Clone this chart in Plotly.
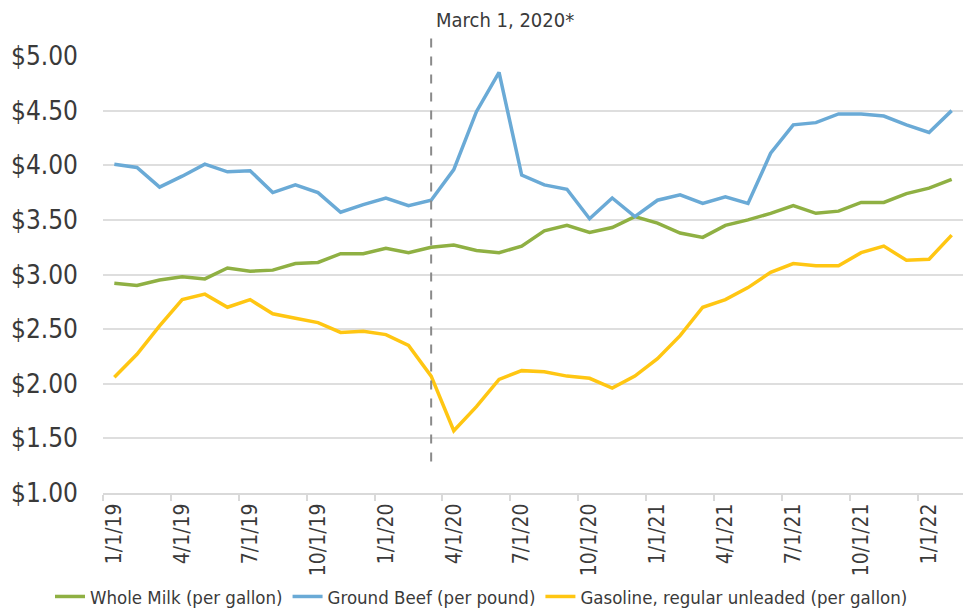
import plotly.graph_objects as go

months = ["1/1/19","2/1/19","3/1/19","4/1/19","5/1/19","6/1/19","7/1/19","8/1/19","9/1/19","10/1/19","11/1/19","12/1/19",
          "1/1/20","2/1/20","3/1/20","4/1/20","5/1/20","6/1/20","7/1/20","8/1/20","9/1/20","10/1/20","11/1/20","12/1/20",
          "1/1/21","2/1/21","3/1/21","4/1/21","5/1/21","6/1/21","7/1/21","8/1/21","9/1/21","10/1/21","11/1/21","12/1/21",
          "1/1/22","2/1/22"]

milk = [2.92, 2.90, 2.95, 2.98, 2.96, 3.06, 3.03, 3.04, 3.10, 3.11, 3.19, 3.19,
        3.24, 3.20, 3.25, 3.27, 3.22, 3.20, 3.26, 3.40, 3.45, 3.385, 3.43, 3.53,
        3.47, 3.38, 3.34, 3.45, 3.50, 3.56, 3.63, 3.56, 3.58, 3.66, 3.66, 3.74,
        3.79, 3.87]

beef = [4.01, 3.98, 3.80, 3.90, 4.01, 3.94, 3.95, 3.75, 3.82, 3.75, 3.57, 3.64,
        3.70, 3.63, 3.68, 3.96, 4.49, 4.85, 3.91, 3.82, 3.78, 3.51, 3.70, 3.53,
        3.68, 3.73, 3.65, 3.71, 3.65, 4.11, 4.37, 4.39, 4.47, 4.47, 4.45, 4.37,
        4.30, 4.50]

gas = [2.06, 2.27, 2.53, 2.77, 2.82, 2.70, 2.77, 2.64, 2.60, 2.56, 2.47, 2.48,
       2.45, 2.35, 2.07, 1.57, 1.79, 2.04, 2.12, 2.11, 2.07, 2.05, 1.96, 2.07,
       2.23, 2.44, 2.70, 2.77, 2.88, 3.02, 3.10, 3.08, 3.08, 3.20, 3.26, 3.13,
       3.14, 3.36]

yticks = [1.0, 1.5, 2.0, 2.5, 3.0, 3.5, 4.0, 4.5, 5.0]
ytick_text = ["$%.2f" % v for v in yticks]
marker_idx = months.index("3/1/20")
marker_label = "March 1, 2020*"

x = list(range(len(months)))
label_idx = x[::3]
label_text = months[::3]

FONT = "DejaVu Sans Condensed"
TXT = "#3a3a3a"

fig = go.Figure()
series = [
    ("Whole Milk (per gallon)", milk, "#8fb043"),
    ("Ground Beef (per pound)", beef, "#6aaad6"),
    ("Gasoline, regular unleaded (per gallon)", gas, "#ffc612"),
]
for name, vals, col in series:
    fig.add_trace(go.Scatter(x=x, y=vals, mode="lines", name=name,
                             line=dict(color=col, width=3.5)))

fig.add_shape(type="line", xref="x", yref="paper", x0=marker_idx, x1=marker_idx,
              y0=0.072, y1=1.048, line=dict(color="#8a8a8a", width=2, dash="dash"))
fig.add_annotation(x=marker_idx, xref="x", y=1.082, yref="paper", text=marker_label,
                   showarrow=False, xanchor="left", yanchor="middle", xshift=3,
                   font=dict(family=FONT, size=20, color=TXT))

fig.update_layout(
    width=963, height=611,
    margin=dict(l=103, r=0, t=56, b=118, autoexpand=False),
    paper_bgcolor="white", plot_bgcolor="white",
    font=dict(family=FONT, color=TXT),
    showlegend=True,
    legend=dict(orientation="h", xref="container", x=0.5, xanchor="center",
                yref="container", y=0.023, yanchor="middle",
                bgcolor="rgba(0,0,0,0)",
                font=dict(family=FONT, size=18.5, color=TXT),
                itemwidth=30, tracegroupgap=0),
    xaxis=dict(range=[-0.5, len(months) - 0.5], tickmode="array", tickvals=label_idx,
               ticktext=label_text, tickangle=-90, ticks="", showgrid=False,
               showline=True, linecolor="#d9d9d9", linewidth=2, zeroline=False,
               automargin=False,
               tickfont=dict(family=FONT, size=21, color=TXT),
               minor=dict(tick0=-0.5, dtick=3, ticks="outside", ticklen=6,
                          tickcolor="#d9d9d9", tickwidth=1.5, showgrid=False)),
    yaxis=dict(range=[1.0, 5.0], tickmode="array", tickvals=yticks, ticktext=ytick_text,
               showgrid=True, gridcolor="#dedede", gridwidth=2, zeroline=False,
               showline=False, ticks="", ticklabelstandoff=24, automargin=False,
               tickfont=dict(family=FONT, size=26, color=TXT)),
)

fig.write_html("out.html", config={"displayModeBar": False},
               post_script="document.body.style.margin='0px';")
